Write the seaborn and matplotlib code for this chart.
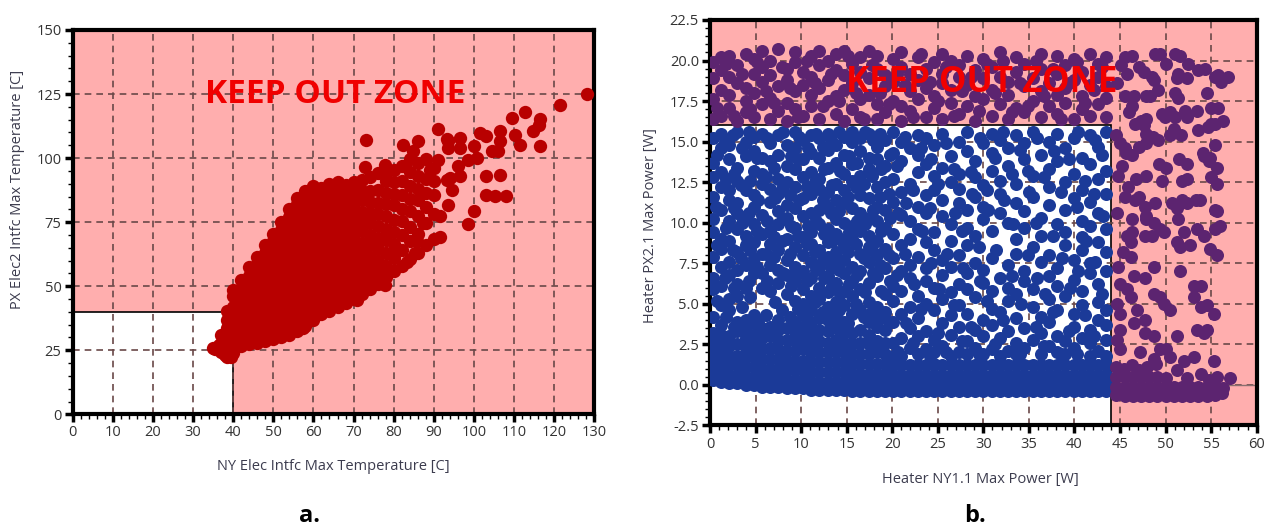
import matplotlib
matplotlib.use("Agg")
import matplotlib.pyplot as plt
from matplotlib.patches import Rectangle
from matplotlib.ticker import MultipleLocator, FormatStrFormatter
import seaborn as sns
import pandas as pd

# ---------------- data: panel a (temperatures, C) ----------------
red_cols = [
    (35.5, [25.5]),
    (37.0, [24.5, 27.5, 31.0]),
    (38.5, [22.5, 26.0, 29.5, 33.5, 37.0, 40.5]),
    (40.0, [24.0, 27.5, 31.0, 35.0, 38.5, 42.0, 46.0, 48.5]),
    (42.0, [26.5, 30.0, 34.0, 37.5, 41.5, 45.0, 49.0, 52.5]),
    (44.0, [27.5, 31.0, 35.0, 39.0, 42.5, 46.5, 50.0, 54.0, 57.5]),
    (46.0, [28.0, 32.0, 35.5, 39.5, 43.5, 47.0, 51.0, 55.0, 58.5, 61.5]),
    (48.0, [28.5, 32.5, 36.5, 40.0, 44.0, 48.0, 52.0, 55.5, 59.5, 63.0, 66.0]),
    (50.0, [29.5, 33.0, 37.0, 41.0, 45.0, 48.5, 52.5, 56.5, 60.0, 64.0, 67.5, 70.5]),
    (52.0, [30.0, 34.0, 38.0, 41.5, 45.5, 49.5, 53.5, 57.0, 61.0, 65.0, 68.5, 72.0, 75.0]),
    (54.0, [31.0, 35.0, 38.5, 42.5, 46.5, 50.5, 54.0, 58.0, 62.0, 66.0, 69.5, 73.5, 77.0, 80.0]),
    (56.0, [32.5, 36.0, 40.0, 44.0, 47.5, 51.5, 55.5, 59.5, 63.0, 67.0, 71.0, 74.5, 78.5, 82.0, 84.5]),
    (58.0, [34.5, 38.0, 42.0, 46.0, 49.5, 53.5, 57.5, 61.5, 65.0, 69.0, 73.0, 76.5, 80.5, 84.0, 87.0]),
    (60.0, [37.0, 40.5, 44.5, 48.0, 52.0, 56.0, 60.0, 63.5, 67.5, 71.5, 75.0, 79.0, 83.0, 86.5, 89.0]),
    (62.0, [39.0, 42.5, 46.5, 50.5, 54.0, 58.0, 62.0, 66.0, 69.5, 73.5, 77.5, 81.0, 85.0, 88.5]),
    (64.0, [40.5, 44.0, 48.0, 52.0, 56.0, 59.5, 63.5, 67.5, 71.0, 75.0, 79.0, 83.0, 86.5, 90.0]),
    (66.0, [42.0, 45.5, 49.5, 53.5, 57.5, 61.0, 65.0, 69.0, 73.0, 76.5, 80.5, 84.5, 88.0, 90.5]),
    (68.0, [43.5, 47.0, 51.0, 55.0, 59.0, 62.5, 66.5, 70.5, 74.0, 78.0, 82.0, 86.0, 89.5]),
    (70.0, [45.0, 49.0, 52.5, 56.5, 60.5, 64.5, 68.0, 72.0, 76.0, 80.0, 83.5, 87.5, 90.5]),
    (72.0, [47.0, 51.0, 55.0, 59.0, 63.5, 67.0, 71.5, 75.5, 79.0, 83.5, 87.0, 91.5]),
    (74.0, [49.0, 53.0, 57.5, 61.5, 66.0, 70.0, 74.5, 78.5, 83.0, 87.0, 92.5]),
    (76.0, [51.0, 55.5, 60.0, 64.5, 69.0, 73.5, 78.0, 82.5, 87.5, 94.0]),
    (78.0, [53.5, 58.0, 63.0, 68.0, 72.5, 77.5, 82.0, 86.5, 91.0]),
    (80.0, [56.0, 61.0, 66.5, 71.0, 76.0, 81.5, 86.0, 90.5, 95.5]),
    (82.0, [58.0, 64.0, 70.0, 75.5, 80.0, 85.5, 91.0, 97.0]),
    (84.0, [60.5, 67.5, 73.0, 79.5, 84.0, 89.0, 94.5, 99.5]),
    (86.0, [63.0, 70.5, 77.5, 83.5, 88.0, 93.0, 98.0]),
    (88.0, [66.0, 74.5, 81.0, 86.5, 92.0, 99.5]),
    (90.0, [68.5, 78.0, 85.5, 91.0, 96.0]),
]
red_extra = [
    (73.2, 107.1), (72.8, 96.7), (77.8, 97.5), (78.2, 94.2), (77.0, 94.2), (82.4, 105.2),
    (86.1, 106.5), (84.8, 102.6), (91.0, 111.4), (93.6, 106.5), (93.2, 107.3), (96.5, 107.8),
    (96.5, 104.0), (93.6, 104.0), (91.1, 99.4), (89.1, 95.5), (93.2, 91.6), (94.5, 87.7),
    (93.6, 81.8), (91.6, 77.3), (87.4, 74.7), (85.7, 67.5), (98.6, 99.4), (100.7, 100.0),
    (99.9, 104.6), (96.1, 96.8), (96.5, 92.9), (94.0, 92.2), (101.5, 109.8), (103.1, 108.5),
    (106.5, 110.5), (106.5, 106.6), (106.1, 102.6), (104.4, 102.6), (103.1, 92.9), (106.5, 93.5),
    (103.1, 85.7), (105.2, 85.3), (108.0, 85.1), (100.1, 79.2), (98.4, 74.4), (91.6, 69.2),
    (85.3, 62.9), (83.2, 59.6), (109.4, 115.7), (112.7, 117.9), (116.5, 115.3), (114.8, 110.5),
    (116.1, 113.1), (110.2, 109.2), (111.5, 105.3), (116.5, 104.9), (121.4, 120.9), (128.1, 125.2),
    (77.8, 50.5), (76.6, 51.3), (79.8, 62.3), (70.9, 44.7), (62.1, 40.0), (57.4, 33.7),
    (35.0, 25.8), (36.5, 27.0), (38.0, 23.0), (39.5, 22.5), (37.5, 29.5), (39.0, 35.0),
]

# ---------------- data: panel b (heater powers, W) ----------------
blue_cols = [
    (0.3, [0.3, 0.8, 1.4, 2.0, 2.6, 3.2, 4.2, 5.9, 6.6, 7.9, 9.4, 10.2, 11.6, 12.8, 13.7, 15.2]),
    (1.2, [0.2, 0.7, 1.3, 1.9, 2.5, 3.1, 3.7, 4.9, 6.1, 7.3, 8.4, 9.0, 10.8, 12.2, 13.1, 14.6, 15.5]),
    (2.1, [0.1, 0.6, 1.2, 1.8, 2.4, 3.0, 4.6, 5.3, 6.8, 7.6, 8.9, 10.1, 11.4, 12.0, 13.9, 14.8]),
    (3.0, [0.1, 0.6, 1.2, 1.8, 2.5, 3.3, 3.9, 5.5, 6.2, 7.1, 8.2, 9.6, 10.6, 11.2, 12.6, 13.4, 15.6]),
    (3.9, [0.0, 0.5, 1.1, 1.7, 2.3, 2.9, 3.5, 4.0, 6.0, 7.4, 8.6, 9.2, 10.4, 12.0, 14.1, 15.0]),
    (4.8, [0.0, 0.5, 1.1, 1.7, 2.4, 3.1, 3.8, 4.3, 6.9, 7.8, 8.8, 9.9, 11.0, 11.7, 13.2, 14.4, 15.3]),
    (5.7, [-0.1, 0.4, 1.0, 1.6, 2.2, 2.9, 3.5, 6.0, 6.9, 8.1, 9.3, 10.5, 12.4, 13.0, 14.0, 15.5]),
    (6.6, [-0.1, 0.4, 1.0, 1.6, 2.3, 3.0, 3.6, 5.8, 7.4, 8.7, 9.5, 11.3, 12.1, 13.8, 14.9]),
    (7.5, [-0.1, 0.4, 1.0, 1.6, 2.2, 2.8, 3.4, 4.0, 6.3, 7.1, 8.3, 9.9, 10.7, 11.8, 12.7, 14.2, 15.4]),
    (8.4, [-0.2, 0.3, 0.9, 1.5, 2.1, 2.8, 3.5, 5.6, 6.8, 7.7, 9.0, 10.3, 11.1, 12.5, 13.5, 14.8]),
    (9.3, [-0.2, 0.3, 0.9, 1.5, 2.1, 2.7, 3.3, 3.9, 5.2, 6.4, 7.3, 8.5, 9.7, 10.9, 12.2, 13.3, 14.6, 15.6]),
    (10.2, [-0.2, 0.3, 0.9, 1.5, 2.2, 2.9, 3.6, 4.3, 5.0, 5.9, 7.0, 8.0, 9.1, 10.4, 11.5, 12.8, 13.9, 15.1]),
    (11.1, [-0.3, 0.2, 0.8, 1.4, 2.0, 2.6, 3.2, 3.9, 4.6, 5.5, 6.6, 7.6, 8.7, 9.4, 10.6, 11.8, 13.1, 14.3, 15.4]),
    (12.0, [-0.3, 0.2, 0.8, 1.4, 2.0, 2.7, 3.4, 4.1, 5.3, 6.0, 7.2, 8.3, 9.9, 10.8, 12.1, 12.7, 14.0, 15.2]),
    (12.9, [-0.3, 0.2, 0.8, 1.4, 2.0, 2.6, 3.3, 4.0, 4.8, 5.7, 6.7, 7.9, 8.8, 9.6, 11.0, 11.9, 13.4, 14.5, 15.5]),
    (13.8, [-0.3, 0.2, 0.8, 1.4, 2.1, 2.8, 3.5, 4.2, 5.1, 6.3, 7.5, 8.2, 9.3, 10.2, 11.4, 12.4, 13.7, 14.8]),
    (14.7, [-0.3, 0.2, 0.8, 1.4, 2.0, 2.6, 3.2, 3.9, 4.9, 5.8, 6.9, 7.7, 8.6, 10.0, 11.2, 12.0, 13.0, 14.2, 15.3]),
    (15.6, [-0.4, 0.1, 0.7, 1.3, 1.9, 2.5, 3.2, 4.4, 5.5, 6.4, 7.3, 9.0, 9.8, 10.9, 12.6, 13.6, 15.0, 15.6]),
    (16.5, [-0.4, 0.1, 0.7, 1.3, 1.9, 2.6, 3.4, 4.6, 5.9, 7.0, 8.1, 9.5, 10.6, 11.7, 12.9, 14.4, 15.2]),
    (17.4, [-0.4, 0.1, 0.7, 1.3, 1.9, 2.5, 3.1, 3.9, 5.1, 6.3, 7.6, 8.5, 9.2, 10.3, 11.5, 13.3, 14.0, 15.5]),
    (18.3, [-0.4, 0.1, 0.7, 1.3, 2.0, 2.7, 3.6, 4.8, 6.7, 8.0, 8.9, 10.1, 11.0, 12.2, 13.9, 14.7]),
    (19.2, [-0.4, 0.1, 0.7, 1.3, 1.9, 2.6, 3.4, 4.5, 5.6, 7.2, 8.4, 9.7, 10.8, 12.5, 13.5, 15.1]),
    (20.1, [-0.4, 0.1, 0.6, 1.2, 1.8, 2.6, 3.9, 5.2, 6.1, 7.8, 9.3, 11.3, 12.7, 14.3, 15.6]),
    (21.0, [-0.4, 0.1, 0.6, 1.2, 1.8, 2.9, 4.4, 5.8, 7.0, 8.6, 10.5, 11.9, 13.8, 15.0]),
    (21.9, [-0.4, 0.1, 0.6, 1.2, 2.3, 3.5, 4.8, 6.6, 7.4, 9.0, 10.1, 12.4, 14.6]),
    (22.8, [-0.4, 0.1, 0.6, 1.2, 1.9, 3.0, 4.1, 5.5, 7.9, 9.6, 11.0, 13.1, 14.2, 15.4]),
    (23.7, [-0.4, 0.1, 0.6, 1.2, 2.2, 3.3, 5.0, 6.4, 7.2, 8.8, 10.6, 11.7, 13.6, 15.2]),
    (24.6, [-0.4, 0.1, 0.6, 1.3, 2.0, 2.8, 4.6, 6.0, 8.3, 9.4, 12.0, 12.9, 14.8]),
    (25.5, [-0.4, 0.1, 0.6, 1.2, 2.4, 3.8, 5.3, 6.8, 7.7, 10.4, 11.4, 13.4, 15.5]),
    (26.4, [-0.4, 0.1, 0.6, 1.2, 1.8, 3.1, 4.3, 5.7, 7.3, 8.9, 9.9, 12.5, 14.1]),
    (27.3, [-0.4, 0.1, 0.6, 1.2, 2.0, 3.6, 4.9, 6.2, 8.0, 11.2, 12.1, 13.0, 15.0]),
    (28.2, [-0.4, 0.1, 0.6, 1.2, 1.9, 2.7, 4.4, 5.9, 6.9, 8.6, 9.7, 10.8, 14.4, 15.6]),
    (29.1, [-0.4, 0.1, 0.6, 1.2, 2.3, 3.4, 5.4, 7.5, 9.2, 11.6, 12.8, 13.8]),
    (30.0, [-0.4, 0.1, 0.6, 1.2, 1.9, 3.0, 4.0, 6.3, 7.1, 10.2, 11.0, 12.3, 14.9]),
    (30.9, [-0.4, 0.1, 0.6, 1.2, 2.2, 3.7, 4.7, 5.8, 7.8, 9.5, 13.2, 14.3, 15.5]),
    (31.8, [-0.4, 0.1, 0.6, 1.2, 1.8, 2.9, 4.5, 6.6, 10.6, 11.8, 12.6, 15.1]),
    (32.7, [-0.4, 0.1, 0.6, 1.2, 2.1, 3.3, 5.2, 6.0, 7.4, 10.0, 13.5, 14.6]),
    (33.6, [-0.4, 0.1, 0.6, 1.2, 1.9, 2.6, 4.1, 5.6, 8.1, 9.0, 11.2, 12.4, 15.4]),
    (34.5, [-0.4, 0.1, 0.6, 1.2, 2.3, 3.5, 6.4, 7.0, 9.7, 10.7, 13.9, 14.9]),
    (35.4, [-0.4, 0.1, 0.6, 1.2, 2.8, 4.8, 5.9, 8.5, 11.6, 12.9, 15.6]),
    (36.3, [-0.4, 0.1, 0.6, 1.2, 1.9, 3.2, 4.2, 7.6, 9.2, 10.3, 14.2]),
    (37.2, [-0.4, 0.1, 0.6, 1.2, 2.4, 3.9, 5.3, 6.7, 8.0, 11.1, 12.2, 13.3, 15.0]),
    (38.1, [-0.4, 0.1, 0.6, 1.2, 2.0, 3.0, 4.6, 6.1, 7.2, 9.9, 13.8, 15.5]),
    (39.0, [-0.4, 0.1, 0.6, 1.2, 1.9, 2.7, 5.5, 8.6, 9.4, 10.8, 12.5, 14.6]),
    (39.9, [-0.4, 0.1, 0.6, 1.2, 2.3, 3.6, 4.4, 6.5, 7.7, 11.5, 13.0, 15.2]),
    (40.8, [-0.4, 0.1, 0.6, 1.2, 2.9, 4.9, 5.8, 8.3, 9.1, 10.1, 12.0, 14.0]),
    (41.7, [-0.4, 0.1, 0.6, 1.2, 1.8, 2.6, 3.4, 6.9, 7.5, 9.8, 11.3, 13.6, 15.4]),
    (42.6, [-0.4, 0.1, 0.6, 1.2, 2.1, 4.0, 5.1, 6.2, 8.8, 10.6, 12.7, 14.7]),
    (43.5, [-0.4, 0.1, 0.6, 1.2, 1.8, 2.8, 3.7, 4.6, 7.0, 8.2, 9.6, 11.8, 13.2, 15.6]),
]
blue_fill = [
    (0.8, 5.2), (0.8, 8.6), (0.7, 11.0), (0.8, 14.2),
    (1.7, 4.2), (1.6, 6.6), (1.7, 9.7), (1.7, 12.7), (1.6, 15.0),
    (2.6, 3.6), (2.6, 6.0), (2.5, 8.3), (2.6, 10.9), (2.6, 13.0), (2.5, 15.4),
    (3.5, 4.8), (3.4, 7.8), (3.5, 10.0), (3.4, 12.3), (3.5, 14.6),
    (4.4, 5.4), (4.3, 6.4), (4.4, 8.3), (4.3, 10.6), (4.4, 12.6), (4.3, 15.6),
    (5.3, 3.9), (5.2, 7.3), (5.2, 9.5), (5.3, 11.4), (5.2, 14.0),
    (6.1, 4.3), (6.2, 6.4), (6.1, 8.1), (6.2, 10.1), (6.1, 12.8), (6.2, 15.2),
    (7.1, 5.1), (7.0, 7.9), (7.0, 9.1), (7.1, 11.5), (7.0, 13.4),
    (7.9, 4.6), (8.0, 6.9), (7.9, 8.9), (8.0, 10.2), (7.9, 12.1), (8.0, 15.6),
    (8.8, 4.2), (8.9, 6.1), (8.8, 8.1), (8.9, 9.8), (8.8, 11.7), (8.9, 14.1),
    (9.7, 4.7), (9.8, 6.9), (9.7, 9.2), (9.8, 11.4), (9.7, 13.9), (9.8, 15.3),
    (10.7, 3.9), (10.6, 6.4), (10.6, 8.7), (10.7, 9.8), (10.6, 12.2), (10.7, 14.6),
    (11.5, 5.1), (11.6, 7.1), (11.5, 8.2), (11.6, 10.1), (11.5, 12.5), (11.6, 15.5),
    (12.4, 4.5), (12.5, 6.6), (12.4, 7.7), (12.5, 9.3), (12.4, 11.4), (12.5, 13.3), (12.4, 14.7),
    (13.3, 4.4), (13.4, 6.1), (13.3, 7.3), (13.4, 8.9), (13.3, 10.6), (13.4, 12.3), (13.3, 15.1),
    (14.2, 4.6), (14.3, 5.6), (14.2, 7.1), (14.3, 9.0), (14.2, 10.7), (14.3, 13.2), (14.2, 15.6),
    (15.1, 3.8), (15.2, 6.2), (15.1, 8.2), (15.2, 9.4), (15.1, 11.6), (15.2, 14.1),
    (16.0, 5.0), (16.1, 6.8), (16.0, 8.7), (16.1, 10.1), (16.0, 12.2), (16.1, 13.7),
    (16.9, 4.2), (17.0, 5.7), (16.9, 7.8), (17.0, 9.9), (16.9, 12.4), (17.0, 15.6),
    (17.8, 4.5), (17.9, 6.9), (17.8, 8.3), (17.9, 10.8), (17.8, 12.9), (17.9, 15.1),
    (18.7, 4.1), (18.8, 5.8), (18.7, 7.4), (18.8, 9.5), (18.7, 11.6), (18.8, 13.3), (18.7, 15.5),
    (19.6, 3.9), (19.7, 6.4), (19.6, 8.0), (19.7, 10.3), (19.6, 11.8), (19.7, 14.2),
    (20.6, 2.0), (20.5, 6.8), (20.6, 10.6), (20.5, 13.5),
    (21.5, 3.8), (21.4, 8.1), (21.5, 11.2), (21.4, 15.3),
    (22.3, 2.6), (22.4, 6.2), (22.3, 12.0),
    (23.2, 4.7), (23.3, 9.5), (23.2, 14.6),
    (24.1, 1.8), (24.2, 7.5), (24.1, 10.9), (24.2, 13.9),
    (25.0, 3.2), (25.1, 5.9), (25.0, 12.4),
    (25.9, 2.0), (26.0, 8.1), (25.9, 14.9),
    (26.8, 4.9), (26.9, 10.6), (26.8, 13.3),
    (27.7, 2.7), (27.8, 7.2), (27.7, 9.5),
    (28.6, 3.6), (28.7, 11.8), (28.6, 13.1),
    (29.5, 1.9), (29.6, 6.4), (29.5, 8.5), (29.6, 15.2),
    (30.4, 5.2), (30.5, 10.8), (30.4, 12.0),
    (31.3, 2.5), (31.4, 8.3), (31.3, 14.0),
    (32.2, 4.0), (32.3, 11.4), (32.2, 15.6),
    (33.1, 6.7), (33.2, 9.9), (33.1, 13.0),
    (34.0, 1.9), (34.1, 5.0), (34.0, 14.5),
    (34.9, 8.0), (35.0, 11.9), (34.9, 13.2),
    (35.8, 3.6), (35.9, 6.6), (35.8, 10.0), (35.9, 15.2),
    (36.7, 2.4), (36.8, 5.6), (36.7, 12.8),
    (37.6, 9.2), (37.7, 14.4), (37.6, 4.5),
    (38.5, 1.9), (38.6, 7.8), (38.5, 11.9),
    (39.4, 3.3), (39.5, 6.0), (39.4, 13.9),
    (40.3, 1.9), (40.4, 7.0), (40.3, 11.0), (40.4, 15.6),
    (41.2, 4.3), (41.3, 8.9), (41.2, 12.6),
    (42.1, 3.0), (42.2, 7.6), (42.1, 11.8), (42.2, 15.1),
    (43.0, 5.6), (43.1, 10.4), (43.0, 14.2),
]
purple_top_cols = [
    (0.3, [16.4, 17.6, 18.9, 19.9]), (1.2, [16.6, 18.2, 19.4, 20.2]),
    (2.1, [17.1, 17.9, 19.0, 20.3]), (3.0, [16.3, 18.6, 19.7]),
    (3.9, [16.8, 17.5, 18.3, 20.4]), (4.8, [16.5, 18.0, 19.2, 20.1]),
    (5.7, [17.3, 18.7, 19.6, 20.6]), (6.6, [16.4, 17.7, 19.1, 20.0]),
    (7.5, [16.9, 18.4, 20.7]), (8.4, [16.3, 17.4, 18.8, 19.5]),
    (9.3, [17.0, 18.1, 19.9, 20.5]), (10.2, [16.6, 18.5, 19.3]),
    (11.1, [17.2, 17.9, 19.0, 20.3]), (12.0, [16.4, 18.3, 19.7, 20.6]),
    (12.9, [17.5, 18.8, 20.0]), (13.8, [16.7, 17.8, 19.4, 20.4]),
    (14.7, [16.3, 18.2, 19.1, 20.6]), (15.6, [17.0, 18.6, 19.8]),
    (16.5, [16.5, 17.6, 19.3, 20.2]), (17.4, [17.9, 18.9, 20.6]),
    (18.3, [16.4, 17.3, 19.5, 20.3]), (19.2, [16.8, 18.4, 19.1]),
    (20.1, [17.5, 18.7, 20.1]), (21.0, [16.3, 17.2, 19.6, 20.5]),
    (21.9, [16.9, 18.1, 19.2]), (22.8, [17.6, 18.8, 20.2]),
    (23.7, [16.5, 18.3, 19.5]), (24.6, [17.1, 17.8, 19.9]),
    (25.5, [16.4, 18.6, 19.2, 20.4]), (26.4, [17.4, 18.2, 20.0]),
    (27.3, [16.7, 19.0, 19.7]), (28.2, [17.2, 18.5, 20.3]),
    (29.1, [16.3, 17.8, 19.4]), (30.0, [17.6, 18.9, 20.1]),
    (30.9, [16.6, 18.2, 19.6]), (31.8, [17.3, 19.0, 20.5]),
    (32.7, [16.4, 17.9, 18.7]), (33.6, [17.1, 19.3, 20.2]),
    (34.5, [16.8, 18.4, 19.8]), (35.4, [17.5, 18.9]),
    (36.3, [16.5, 18.1, 19.5, 20.4]), (37.2, [17.2, 18.6]),
    (38.1, [16.7, 17.9, 19.2, 20.3]), (39.0, [17.4, 18.3, 19.7]),
    (39.9, [16.4, 18.8, 20.1]), (40.8, [17.0, 17.8, 19.3]),
    (41.7, [16.6, 18.5, 20.4]), (42.6, [17.3, 19.0, 19.8]),
    (43.5, [16.5, 17.7, 18.4, 20.2]),
]
purple_top_fill = [
    (0.8, 17.1), (1.7, 19.8), (2.6, 16.6), (3.5, 19.2), (4.4, 17.0), (5.2, 19.9), (6.1, 18.1),
    (7.0, 17.4), (7.9, 19.6), (8.8, 18.3), (9.7, 16.5), (10.6, 20.0), (11.5, 18.6), (12.4, 17.2),
    (13.3, 19.2), (14.2, 17.5), (15.1, 20.3), (16.0, 18.0), (16.9, 16.4), (17.8, 19.7), (18.7, 18.0),
    (19.6, 17.3), (20.5, 19.2), (21.4, 18.5), (22.3, 16.5), (23.2, 20.4), (24.1, 18.7), (25.0, 17.5),
    (25.9, 19.6), (26.8, 16.6), (27.7, 18.1), (28.6, 19.0), (29.5, 16.9), (30.4, 19.8), (31.3, 18.0),
    (32.2, 20.0), (33.1, 16.8), (34.0, 18.6), (34.9, 17.2), (35.8, 20.0), (36.7, 17.8), (37.6, 19.5),
    (38.5, 16.4), (39.4, 18.6), (40.3, 19.9), (41.2, 17.4), (42.1, 18.2), (43.0, 19.6),
]
purple_right = [
    (44.6, -0.6), (45.5, -0.7), (46.4, -0.7), (47.3, -0.7), (48.2, -0.7), (49.1, -0.7), (50.0, -0.7),
    (50.9, -0.7), (51.8, -0.7), (52.7, -0.7), (53.6, -0.7), (54.5, -0.7), (55.4, -0.6), (56.2, -0.5),
    (44.6, -0.1), (45.5, -0.1), (46.4, -0.1), (47.3, -0.1), (48.2, -0.1), (49.1, -0.1), (50.0, -0.1),
    (50.9, -0.1), (51.8, -0.1), (52.7, -0.1), (53.6, -0.1), (54.5, -0.1), (55.4, -0.1), (56.3, -0.2),
    (44.6, 0.5), (45.5, 0.5), (46.4, 0.5), (47.3, 0.5), (48.2, 0.5), (49.1, 0.5), (50.0, 0.4),
    (51.3, 0.9), (52.3, 0.4), (53.9, 0.7), (54.8, 0.3), (55.6, 0.5), (57.1, 0.4),
    (44.6, 1.1), (45.4, 1.0), (46.3, 1.2), (47.1, 0.9), (48.0, 1.1), (49.0, 1.3),
    (46.3, 20.3), (49.4, 20.4), (51.6, 20.3), (52.5, 19.8), (50.1, 19.8), (54.3, 19.5), (55.8, 19.1),
    (56.9, 19.0), (56.1, 18.7), (45.8, 19.2), (47.6, 19.3), (48.7, 18.8), (51.3, 18.9), (52.4, 18.9),
    (54.5, 18.0), (51.4, 17.7), (48.3, 17.8), (46.5, 17.8), (46.3, 17.2), (50.5, 16.8), (52.4, 16.5),
    (53.5, 16.9), (55.7, 17.1), (56.3, 16.3), (55.0, 16.1), (47.9, 16.4), (47.6, 16.0), (50.9, 15.8),
    (50.5, 15.4), (48.6, 15.3), (45.5, 14.6), (46.3, 14.2), (47.8, 14.9), (50.1, 13.4), (52.4, 13.6),
    (54.2, 14.1), (54.9, 14.0), (55.4, 14.8), (55.6, 13.4), (46.7, 12.7), (47.9, 12.9), (52.4, 12.7),
    (55.6, 12.4), (45.5, 11.6), (46.6, 11.4), (47.7, 11.0), (51.3, 10.9), (52.4, 11.2), (53.8, 11.4),
    (55.6, 10.7), (56.0, 9.8), (47.9, 10.2), (48.7, 10.0), (49.4, 9.6), (45.8, 9.2), (46.2, 8.8),
    (46.2, 7.9), (47.7, 9.2), (49.8, 9.4), (51.2, 8.8), (52.0, 9.4), (53.5, 9.6), (54.2, 9.2),
    (54.9, 8.4), (55.6, 8.0), (51.6, 8.5), (52.7, 8.6), (48.7, 7.3), (51.6, 7.0), (45.0, 6.2),
    (46.5, 6.7), (47.7, 6.6), (45.8, 5.9), (46.2, 5.4), (48.7, 5.6), (49.4, 5.4), (49.8, 5.0),
    (50.5, 4.6), (53.1, 6.1), (53.9, 6.1), (53.1, 5.4), (53.9, 4.8), (54.6, 4.9), (55.3, 4.4),
    (45.0, 4.4), (46.9, 4.6), (47.7, 4.0), (46.5, 3.8), (47.7, 3.2), (48.7, 3.0), (49.4, 2.2),
    (50.1, 2.2), (51.2, 3.0), (53.5, 3.4), (54.2, 3.2), (54.6, 3.4), (55.3, 1.5), (53.1, 1.7),
    (52.0, 1.5), (50.5, 1.7), (48.7, 1.6), (47.2, 2.0), (45.0, 2.2), (45.0, 3.4),
    (45.0, 14.9), (45.7, 14.3), (49.3, 13.6), (51.5, 13.9), (54.8, 13.8), (54.1, 14.3), (46.6, 16.1),
    (47.3, 16.3), (49.9, 16.5), (51.0, 16.5), (52.1, 16.9), (55.0, 17.1), (55.4, 16.1), (45.6, 20.2),
    (47.1, 19.6), (48.5, 19.0), (49.2, 18.2), (51.4, 19.2), (53.6, 19.4), (55.4, 19.0), (48.8, 20.4),
    (51.0, 20.4), (45.6, 17.8), (47.8, 17.8), (51.0, 18.0), (49.6, 16.7), (47.8, 15.5), (47.1, 14.7),
    (49.2, 15.1), (51.7, 15.4), (53.6, 15.7), (54.7, 15.9), (45.9, 12.2), (47.1, 11.6), (48.8, 11.2),
    (50.7, 11.2), (51.8, 11.4), (53.3, 11.4), (55.4, 10.8), (55.0, 12.8), (51.8, 12.6), (49.6, 12.6),
    (46.3, 10.2), (47.8, 10.4), (51.4, 10.2), (55.4, 9.6), (46.3, 9.4), (48.5, 9.2),
    (44.7, 2.8), (44.7, 5.0), (44.8, 7.3), (44.7, 10.6), (44.8, 12.9), (44.6, 15.4), (44.7, 18.6),
    (45.3, 8.2), (45.2, 13.5), (46.0, 16.8), (45.1, 19.7),
]

# ---------------- helpers ----------------
def cols_frame(cols):
    xs, ys = [], []
    for x, yl in cols:
        for y in yl:
            xs.append(x)
            ys.append(y)
    return pd.DataFrame({"x": xs, "y": ys})

def pairs_frame(pairs):
    return pd.DataFrame({"x": [p[0] for p in pairs], "y": [p[1] for p in pairs]})

red_df = pd.concat([cols_frame(red_cols), pairs_frame(red_extra)], ignore_index=True)
blue_df = pd.concat([cols_frame(blue_cols), pairs_frame(blue_fill)], ignore_index=True)
purple_df = pd.concat([cols_frame(purple_top_cols), pairs_frame(purple_top_fill),
                       pairs_frame(purple_right)], ignore_index=True)

# ---------------- styling ----------------
sns.set_style("white")
plt.rcParams["font.family"] = ["Open Sans", "DejaVu Sans"]

PINK = "#ffaeae"
RED = "#b80000"
BLUE = "#1b3a98"
PURPLE = "#5c2470"
GRID = "#6a4848"
LABEL = "#3c3c4e"

fig = plt.figure(figsize=(12.77, 5.29), dpi=100)
fig.patch.set_facecolor("white")

ax1 = fig.add_axes([0.0569, 0.2168, 0.4085, 0.7265])
ax2 = fig.add_axes([0.5560, 0.1957, 0.4281, 0.7665])

def style_axes(ax):
    ax.set_facecolor(PINK)
    ax.set_axisbelow(True)
    ax.grid(True, which="major", color=GRID, linestyle=(0, (4, 3)), linewidth=1.2)
    for s in ax.spines.values():
        s.set_visible(True)
        s.set_color("black")
        s.set_linewidth(3)
    ax.tick_params(which="major", direction="out", length=6, width=2.5, color="black",
                   labelsize=10.5, labelcolor="#333333", pad=2, left=True, bottom=True)
    ax.tick_params(which="minor", direction="out", length=3.5, width=1, color="black",
                   left=True, bottom=True)

# ---- panel a ----
style_axes(ax1)
ax1.add_patch(Rectangle((0, 0), 40, 40, facecolor="white", edgecolor="black", linewidth=1.2, zorder=0.3))
sns.scatterplot(data=red_df, x="x", y="y", color=RED, s=92, linewidth=0, ax=ax1, zorder=3, legend=False)
ax1.set_xlim(0, 130)
ax1.set_ylim(0, 150)
ax1.xaxis.set_major_locator(MultipleLocator(10))
ax1.xaxis.set_minor_locator(MultipleLocator(2))
ax1.yaxis.set_major_locator(MultipleLocator(25))
ax1.yaxis.set_minor_locator(MultipleLocator(5))
ax1.set_xlabel("NY Elec Intfc Max Temperature [C]", fontsize=10.5, color=LABEL)
ax1.set_ylabel("PX Elec2 Intfc Max Temperature [C]", fontsize=10.5, color=LABEL)
ax1.xaxis.set_label_coords(0.499, -0.117)
ax1.yaxis.set_label_coords(-0.092, 0.586)
ax1.text(65.4, 121.7, "KEEP OUT ZONE", color="#f00000", fontsize=24, fontweight="bold",
         ha="center", va="baseline", zorder=5)

# ---- panel b ----
style_axes(ax2)
ax2.add_patch(Rectangle((0, -2.5), 44, 18.5, facecolor="white", edgecolor="black", linewidth=1.2, zorder=0.3))
ax2.axhline(0, color="#8a7070", linewidth=1, zorder=1)
sns.scatterplot(data=blue_df, x="x", y="y", color=BLUE, s=88, linewidth=0, ax=ax2, zorder=3, legend=False)
sns.scatterplot(data=purple_df, x="x", y="y", color=PURPLE, s=88, linewidth=0, ax=ax2, zorder=3, legend=False)
ax2.set_xlim(0, 60)
ax2.set_ylim(-2.5, 22.5)
ax2.xaxis.set_major_locator(MultipleLocator(5))
ax2.xaxis.set_minor_locator(MultipleLocator(1))
ax2.yaxis.set_major_locator(MultipleLocator(2.5))
ax2.yaxis.set_minor_locator(MultipleLocator(0.5))
ax2.yaxis.set_major_formatter(FormatStrFormatter("%.1f"))
ax2.set_xlabel("Heater NY1.1 Max Power [W]", fontsize=10.5, color=LABEL)
ax2.set_ylabel("Heater PX2.1 Max Power [W]", fontsize=10.5, color=LABEL)
ax2.xaxis.set_label_coords(0.494, -0.115)
ax2.yaxis.set_label_coords(-0.095, 0.494)
ax2.text(29.8, 18.06, "KEEP OUT ZONE", color="#f00000", fontsize=25, fontweight="bold",
         ha="center", va="baseline", zorder=5)

fig.text(309 / 1277, 0.002, "a.", fontsize=17, fontweight="bold", ha="center", va="bottom", color="black")
fig.text(975 / 1277, 0.002, "b.", fontsize=17, fontweight="bold", ha="center", va="bottom", color="black")

fig.savefig("out.png", dpi=100, facecolor="white")
